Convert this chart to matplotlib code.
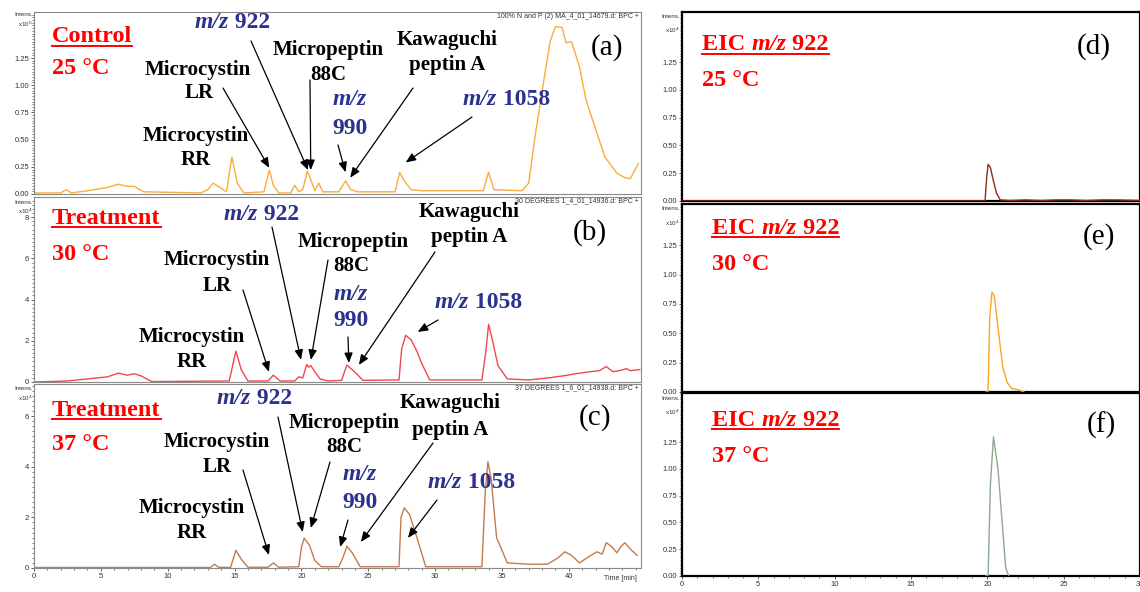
import matplotlib.pyplot as plt
from matplotlib.lines import Line2D
from matplotlib.ticker import MultipleLocator, FormatStrFormatter, FixedLocator

W, H = 1140, 592
SERIF = 'Liberation Serif'
SANS = 'Liberation Sans'
RED = '#ff0000'
BLUE = '#2b3290'

# ---- base peak chromatograms (time in min, intensity) ----
# (a) control 25 C, intensity x10^5
t_a = [0.0, 2.0, 2.4, 2.8, 4.0, 5.5, 6.3, 7.0, 7.5, 8.2,
       12.5, 13.0, 13.4, 13.9, 14.4, 14.8, 15.2, 15.7,
       17.2, 17.6, 17.9, 18.3, 19.2, 19.5, 19.8, 20.1, 20.45, 20.8, 21.0, 21.3, 21.6,
       22.8, 23.3, 23.7, 24.2, 27.0, 27.35, 27.7, 28.2, 29.0, 33.6, 34.0, 34.4,
       36.5, 37.0, 37.5, 38.1, 38.6, 39.0, 39.5, 39.8, 40.2, 40.8, 41.3, 42.1,
       42.7, 43.6, 44.2, 44.6, 45.2]
i_a = [0.01, 0.01, 0.04, 0.01, 0.03, 0.06, 0.09, 0.07, 0.07, 0.02,
       0.01, 0.04, 0.10, 0.06, 0.02, 0.34, 0.10, 0.01,
       0.02, 0.22, 0.08, 0.01, 0.01, 0.08, 0.02, 0.04, 0.21, 0.10, 0.03, 0.10, 0.02,
       0.02, 0.12, 0.04, 0.02, 0.02, 0.20, 0.12, 0.04, 0.03, 0.03, 0.20, 0.04,
       0.03, 0.10, 0.55, 1.02, 1.40, 1.54, 1.53, 1.39, 1.40, 1.17, 0.86, 0.56,
       0.34, 0.19, 0.15, 0.14, 0.28]

# (b) treatment 30 C, intensity x10^4
t_b = [0.0, 2.5, 4.0, 5.5, 6.3, 7.0, 7.5, 8.0, 8.8,
       14.6, 15.1, 15.5, 16.0,
       17.5, 17.9, 18.4,
       19.5, 19.8, 20.1, 20.4, 20.55, 20.7, 21.0, 21.4, 22.0,
       23.0, 23.4, 23.8, 24.2, 24.6,
       27.3, 27.5, 27.8, 28.2, 28.6, 29.0, 29.6,
       33.5, 33.8, 34.0, 34.3, 34.7, 35.4,
       37.0, 38.5, 39.6, 40.5, 41.6, 42.3, 42.8, 43.3, 43.8, 44.3, 44.6, 45.3]
i_b = [0.0, 0.05, 0.15, 0.25, 0.43, 0.33, 0.40, 0.30, 0.02,
       0.05, 1.50, 0.60, 0.05,
       0.05, 0.33, 0.05,
       0.05, 0.25, 0.20, 0.85, 0.72, 0.80, 0.50, 0.15, 0.05,
       0.08, 0.82, 0.60, 0.35, 0.08,
       0.10, 1.60, 2.27, 2.05, 1.55, 0.90, 0.10,
       0.10, 1.50, 2.80, 2.00, 0.80, 0.15,
       0.10, 0.20, 0.30, 0.40, 0.50, 0.55, 0.75, 0.50, 0.55, 0.65, 0.55, 0.60]

# (c) treatment 37 C, intensity x10^4
t_c = [0.0, 5.0, 10.0, 13.2, 13.5, 13.8,
       14.7, 15.1, 15.5, 16.0,
       17.5, 17.9, 18.3,
       19.8, 20.0, 20.2, 20.6, 21.0, 21.5,
       22.8, 23.1, 23.4, 23.8, 24.4,
       27.3, 27.45, 27.7, 28.1, 28.7, 29.3,
       33.5, 33.75, 33.95, 34.2, 34.6, 35.4,
       37.0, 38.4, 39.2, 39.7, 40.2, 40.8, 41.5, 42.1, 42.5, 42.8, 43.2, 43.6,
       43.9, 44.2, 44.6, 45.1]
i_c = [0.02, 0.02, 0.02, 0.02, 0.15, 0.03,
       0.02, 0.70, 0.35, 0.03,
       0.03, 0.20, 0.03,
       0.05, 0.80, 1.18, 0.90, 0.30, 0.05,
       0.05, 0.40, 0.86, 0.60, 0.05,
       0.05, 2.00, 2.38, 2.10, 1.10, 0.05,
       0.05, 3.00, 4.20, 3.50, 1.20, 0.20,
       0.15, 0.15, 0.40, 0.64, 0.50, 0.20, 0.45, 0.64, 0.55, 1.00, 0.85, 0.60,
       0.85, 1.00, 0.75, 0.50]

# ---- extracted ion chromatograms m/z 922, intensity x10^4 ----
t_d = [0.0, 19.85, 19.95, 20.05, 20.2, 20.4, 20.6, 20.85, 21.5, 22.5, 23.5,
       24.5, 25.5, 26.5, 27.5, 28.5, 30.0]
i_d = [0.0, 0.0, 0.20, 0.33, 0.30, 0.18, 0.07, 0.01, 0.005, 0.01, 0.005,
       0.01, 0.01, 0.005, 0.01, 0.01, 0.005]
t_e = [19.9, 20.05, 20.15, 20.3, 20.45, 20.7, 21.0, 21.3, 21.6, 22.0, 22.4]
i_e = [0.0, 0.0, 0.62, 0.85, 0.82, 0.55, 0.22, 0.08, 0.03, 0.02, 0.0]
t_f = [19.9, 20.05, 20.2, 20.4, 20.7, 21.0, 21.2, 21.4]
i_f = [0.0, 0.0, 0.85, 1.30, 1.00, 0.45, 0.08, 0.0]

time_ticks_left = [0, 5, 10, 15, 20, 25, 30, 35, 40]
time_ticks_right = [0, 5, 10, 15, 20, 25, 30]

assert len(t_a) == len(i_a) and len(t_b) == len(i_b) and len(t_c) == len(i_c)
assert len(t_d) == len(i_d) and len(t_e) == len(i_e) and len(t_f) == len(i_f)

fig = plt.figure(figsize=(W / 100, H / 100), dpi=100)


def box(x0, y0, x1, y1):
    return fig.add_axes([x0 / W, 1 - y1 / H, (x1 - x0) / W, (y1 - y0) / H])


def txt(x, y, s, **kw):
    return fig.text(x / W, 1 - y / H, s, **kw)


def small(x, y, s, ha='right', size=5):
    return txt(x, y, s, fontfamily=SANS, fontsize=size, color='#333333', ha=ha, va='center')


def style_axes(ax, xmax, ymax, yticks, fmt, edge, lw):
    ax.set_xlim(0, xmax)
    ax.set_ylim(0, ymax)
    for sp in ax.spines.values():
        sp.set_color(edge)
        sp.set_linewidth(lw)
    ax.set_yticks(yticks)
    ax.yaxis.set_minor_locator(MultipleLocator((yticks[1] - yticks[0]) / 10))
    ax.yaxis.set_major_formatter(FormatStrFormatter(fmt))
    ax.tick_params(axis='both', which='major', direction='out', labelsize=5.5,
                   labelcolor='#333333', color='#444444', length=2.5, width=0.6, pad=1)
    ax.tick_params(axis='both', which='minor', direction='out', color='#444444',
                   length=1.3, width=0.5)
    for lab in ax.get_xticklabels() + ax.get_yticklabels():
        lab.set_fontfamily(SANS)
    ax.tick_params(axis='x', which='both', bottom=False, labelbottom=False)


def show_time_axis(ax, ticks):
    ax.tick_params(axis='x', which='both', bottom=True, labelbottom=True)
    ax.set_xticks(ticks)
    ax.xaxis.set_minor_locator(MultipleLocator(1))
    for lab in ax.get_xticklabels():
        lab.set_fontfamily(SANS)


# left column: base peak chromatograms
ax_a = box(34, 12, 641, 194)
ax_b = box(34, 197, 641, 382)
ax_c = box(34, 384, 641, 568)
style_axes(ax_a, 45.4, 1.673, [0, 0.25, 0.5, 0.75, 1.0, 1.25], '%.2f', '#8a8a8a', 0.8)
style_axes(ax_b, 45.4, 8.98, [0, 2, 4, 6, 8], '%d', '#8a8a8a', 0.8)
style_axes(ax_c, 45.4, 7.27, [0, 2, 4, 6], '%d', '#8a8a8a', 0.8)
show_time_axis(ax_c, time_ticks_left)
ax_a.plot(t_a, i_a, color='#f9ad3c', lw=1.0)
ax_b.plot(t_b, i_b, color='#f0484c', lw=1.0)
ax_c.plot(t_c, i_c, color='#c47a50', lw=1.0)

# right column: EIC m/z 922
ax_d = box(682, 12, 1140, 201)
ax_e = box(682, 204, 1140, 392)
ax_f = box(682, 393, 1140, 576)
eic_ticks = [0, 0.25, 0.5, 0.75, 1.0, 1.25]
style_axes(ax_d, 30, 1.70, eic_ticks, '%.2f', 'black', 1.6)
style_axes(ax_e, 30, 1.60, eic_ticks, '%.2f', 'black', 1.6)
style_axes(ax_f, 30, 1.71, eic_ticks, '%.2f', 'black', 1.6)
show_time_axis(ax_f, time_ticks_right)
ax_d.plot(t_d, i_d, color='#8b2f10', lw=1.0, zorder=3)
ax_e.plot(t_e, i_e, color='#f5a623', lw=1.0, zorder=3)
ax_f.plot(t_f, i_f, color='#8fa890', lw=1.0, zorder=3)

# small instrument labels
small(33, 15, 'Intens.', size=4.5)
small(33, 24, 'x10$^5$', size=4.5)
small(33, 202, 'Intens.', size=4.5)
small(33, 211, 'x10$^4$', size=4.5)
small(33, 389, 'Intens.', size=4.5)
small(33, 398, 'x10$^4$', size=4.5)
for y0 in (12, 205, 394):
    small(680, y0 + 4, 'Intens.', size=4.5)
    small(680, y0 + 18, 'x10$^4$', size=4.5)
small(639, 17, '100% N and P (2) MA_4_01_14679.d: BPC +')
small(639, 201, '30 DEGREES 1_4_01_14936.d: BPC +')
small(639, 388, '37 DEGREES 1_6_01_14938.d: BPC +')
small(620, 578, 'Time [min]', ha='center')


def chain(ax, x, y, parts, size, color):
    """Texts placed one after another on the same line: (string, style)."""
    s0, st0 = parts[0]
    items = [txt(x, y, s0, fontfamily=SERIF, fontweight='bold', fontstyle=st0,
                 fontsize=size, color=color, ha='left', va='center')]
    for s, st in parts[1:]:
        items.append(ax.annotate(s, xy=(1, 0.5), xycoords=items[-1], ha='left', va='center',
                                 fontfamily=SERIF, fontweight='bold', fontstyle=st,
                                 fontsize=size, color=color))
    return items


def black(x, y, s):
    txt(x, y, s, fontfamily=SERIF, fontweight='bold', fontsize=15, color='black',
        ha='center', va='center')


def blue_center(x, y, s, style):
    txt(x, y, s, fontfamily=SERIF, fontweight='bold', fontstyle=style, fontsize=17,
        color=BLUE, ha='center', va='center')


def letter(x, y, s):
    txt(x, y, s, fontfamily=SERIF, fontsize=21, color='black', ha='center', va='center')


def arrow(ax, tail, tip):
    ax.annotate('', xy=tip, xycoords='data', xytext=(tail[0], H - tail[1]),
                textcoords='figure pixels', annotation_clip=False,
                arrowprops=dict(arrowstyle='-|>,head_length=0.6,head_width=0.25',
                                color='black', lw=0.9, shrinkA=0, shrinkB=0,
                                mutation_scale=10))


underlined = []

# panel (a)
underlined.append(chain(ax_a, 52, 37, [('Control', 'normal')], 17.5, RED))
chain(ax_a, 52, 69, [('25 °C', 'normal')], 17.5, RED)
chain(ax_a, 195, 22, [('m/z', 'italic'), (' 922', 'normal')], 17, BLUE)
black(198, 70, 'Microcystin'); black(199, 93, 'LR')
black(196, 136, 'Microcystin'); black(196, 160, 'RR')
black(328, 50, 'Micropeptin'); black(328, 75, '88C')
black(447, 40, 'Kawaguchi'); black(447, 65, 'peptin A')
blue_center(350, 100, 'm/z', 'italic'); blue_center(350, 129, '990', 'normal')
chain(ax_a, 463, 100, [('m/z', 'italic'), (' 1058', 'normal')], 17, BLUE)
letter(607, 48, '(a)')
arrows_a = [((223, 88), (17.6, 0.24)), ((251, 41), (20.5, 0.22)), ((310, 80), (20.7, 0.22)),
            ((338, 145), (23.3, 0.20)), ((413, 88), (23.65, 0.15)), ((472, 117), (27.8, 0.29))]
for tail, tip in arrows_a:
    arrow(ax_a, tail, tip)

# panel (b)
underlined.append(chain(ax_b, 52, 218, [('Treatment', 'normal')], 17.5, RED))
chain(ax_b, 52, 255, [('30 °C', 'normal')], 17.5, RED)
chain(ax_b, 224, 215, [('m/z', 'italic'), (' 922', 'normal')], 17, BLUE)
black(217, 260, 'Microcystin'); black(217, 286, 'LR')
black(192, 337, 'Microcystin'); black(192, 362, 'RR')
black(353, 242, 'Micropeptin'); black(351, 266, '88C')
black(469, 212, 'Kawaguchi'); black(469, 237, 'peptin A')
blue_center(351, 295, 'm/z', 'italic'); blue_center(351, 321, '990', 'normal')
chain(ax_b, 435, 302, [('m/z', 'italic'), (' 1058', 'normal')], 17, BLUE)
letter(590, 233, '(b)')
arrows_b = [((243, 290), (17.57, 0.49)), ((272, 227), (19.97, 1.07)), ((328, 260), (20.71, 1.07)),
            ((348, 337), (23.55, 0.92)), ((435, 252), (24.3, 0.83)), ((438, 320), (28.7, 2.43))]
for tail, tip in arrows_b:
    arrow(ax_b, tail, tip)

# panel (c)
underlined.append(chain(ax_c, 52, 410, [('Treatment', 'normal')], 17.5, RED))
chain(ax_c, 52, 445, [('37 °C', 'normal')], 17.5, RED)
chain(ax_c, 217, 398, [('m/z', 'italic'), (' 922', 'normal')], 17, BLUE)
black(217, 442, 'Microcystin'); black(217, 467, 'LR')
black(192, 508, 'Microcystin'); black(192, 533, 'RR')
black(344, 423, 'Micropeptin'); black(344, 447, '88C')
black(450, 403, 'Kawaguchi'); black(450, 430, 'peptin A')
blue_center(360, 475, 'm/z', 'italic'); blue_center(360, 503, '990', 'normal')
chain(ax_c, 428, 483, [('m/z', 'italic'), (' 1058', 'normal')], 17, BLUE)
letter(595, 418, '(c)')
arrows_c = [((243, 470), (17.57, 0.51)), ((278, 417), (20.1, 1.42)), ((330, 462), (20.7, 1.58)),
            ((348, 520), (22.9, 0.83)), ((433, 443), (24.45, 1.03)), ((437, 500), (27.97, 1.19))]
for tail, tip in arrows_c:
    arrow(ax_c, tail, tip)

# right column labels
for ax, x0, y0, temp, lab, lx, ly in [(ax_d, 702, 45, '25 °C', '(d)', 1094, 47),
                                      (ax_e, 712, 228, '30 °C', '(e)', 1099, 237),
                                      (ax_f, 712, 420, '37 °C', '(f)', 1101, 425)]:
    underlined.append(chain(ax, x0, y0, [('EIC ', 'normal'), ('m/z', 'italic'), (' 922', 'normal')],
                            17.5, RED))
    chain(ax, x0, y0 + 36, [(temp, 'normal')], 17.5, RED)
    letter(lx, ly, lab)

# underline the red headings
fig.canvas.draw()
renderer = fig.canvas.get_renderer()
for items in underlined:
    b0 = items[0].get_window_extent(renderer)
    b1 = items[-1].get_window_extent(renderer)
    y = b0.y0 + 1.5
    fig.add_artist(Line2D([b0.x0 / W, b1.x1 / W], [y / H, y / H], transform=fig.transFigure,
                          color=RED, lw=1.4))

fig.savefig('out.png', dpi=100)
